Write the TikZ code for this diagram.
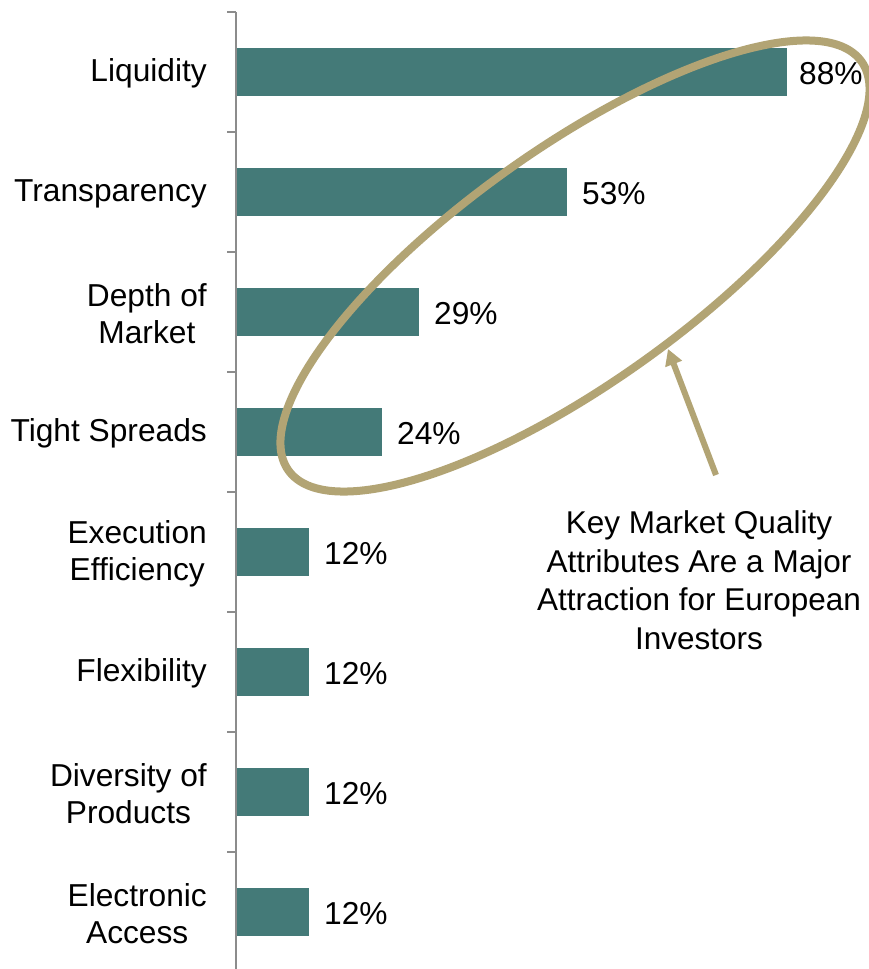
\documentclass[tikz,border=0pt]{standalone}
\usepackage{fontspec}
\setmainfont{Liberation Sans}
\usetikzlibrary{shapes.geometric,arrows.meta}
\definecolor{barteal}{RGB}{68,122,120}
\definecolor{ringtan}{RGB}{178,164,116}
\definecolor{axisgray}{RGB}{140,140,140}
\begin{document}
\begin{tikzpicture}[x=1pt,y=-1pt,
  font=\fontsize{31.7}{37}\selectfont,
  bar/.style={fill=barteal, draw=none, minimum height=48pt, inner sep=0pt, outer sep=0pt, anchor=west},
  pct/.style={inner sep=0pt, anchor=west, yshift=-1.5pt},
  cat/.style={inner sep=0pt, anchor=east, align=center, yshift=-1.5pt},
  axisline/.style={draw=axisgray, line width=1.5pt},
  ring/.style={ellipse, draw=ringtan, line width=8pt, inner sep=0pt, fill=none},
  pointer/.style={draw=ringtan, line width=6pt, -{Triangle[length=16pt,width=17pt]}},
  note/.style={align=center, inner sep=0pt, font=\fontsize{31.5}{38.5}\selectfont}]
\useasboundingbox (0,0) rectangle (869,969);
\fill[white] (0,0) rectangle (869,969);

% bars
\node[bar, minimum width=551pt] (bar1) at (236,72) {};
\node[bar, minimum width=331pt] (bar2) at (236,192) {};
\node[bar, minimum width=183pt] (bar3) at (236,312) {};
\node[bar, minimum width=146pt] (bar4) at (236,432) {};
\node[bar, minimum width=73pt] (bar5) at (236,552) {};
\node[bar, minimum width=73pt] (bar6) at (236,672) {};
\node[bar, minimum width=73pt] (bar7) at (236,792) {};
\node[bar, minimum width=73pt] (bar8) at (236,912) {};

% value labels
\node[pct] (pct1) at ([xshift=12pt]bar1.east) {88\%};
\node[pct] (pct2) at ([xshift=15pt]bar2.east) {53\%};
\node[pct] (pct3) at ([xshift=15pt]bar3.east) {29\%};
\node[pct] (pct4) at ([xshift=15pt]bar4.east) {24\%};
\node[pct] (pct5) at ([xshift=15pt]bar5.east) {12\%};
\node[pct] (pct6) at ([xshift=15pt]bar6.east) {12\%};
\node[pct] (pct7) at ([xshift=15pt]bar7.east) {12\%};
\node[pct] (pct8) at ([xshift=15pt]bar8.east) {12\%};

% category labels
\node[cat] (cat1) at (207,72) {Liquidity};
\node[cat] (cat2) at (207,192) {Transparency};
\node[cat] (cat3) at (207,312) {Depth of\\Market};
\node[cat] (cat4) at (207,432) {Tight Spreads};
\node[cat] (cat5) at (207,552) {Execution\\Efficiency};
\node[cat] (cat6) at (207,672) {Flexibility};
\node[cat] (cat7) at (207,792) {Diversity of\\Products};
\node[cat] (cat8) at (207,912) {Electronic\\Access};

% axis
\coordinate (axtop) at (236,12);
\coordinate (axbot) at (236,969);
\draw[axisline] (axtop) -- (axbot);
\foreach \k in {0,...,7} {
  \draw[axisline] (227,12+120*\k) -- (236,12+120*\k);
}

% highlight ring
\node[ring, rotate=35.5, minimum width=704pt, minimum height=234pt] (ring) at (575,266) {};

% annotation
\node[note] (note) at (699,580) {Key Market Quality\\Attributes Are a Major\\Attraction for European\\Investors};
\coordinate (arrtail) at (716,475);
\coordinate (arrtip) at (668,349);
\draw[pointer] (arrtail) -- (arrtip);
\end{tikzpicture}
\end{document}
